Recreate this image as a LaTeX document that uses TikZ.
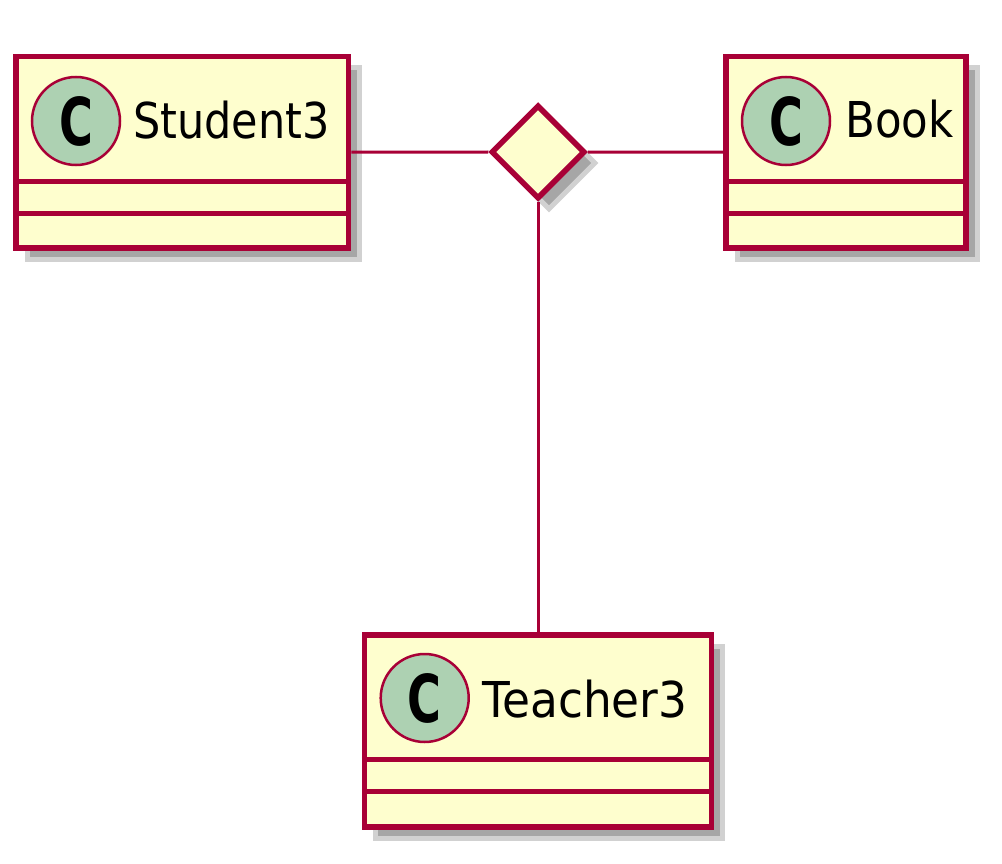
\documentclass[tikz,border=0pt]{standalone}
\usepackage{fontspec}
\setmainfont{DejaVu Sans}
\usetikzlibrary{shapes.geometric,shadows}
\definecolor{umlborder}{HTML}{A80036}
\definecolor{umlfill}{HTML}{FEFECE}
\definecolor{umlcircle}{HTML}{ADD1B2}
\tikzset{
  umlshadow/.style={general shadow={fill=black!35,draw=black!18,line width=5pt,shadow xshift=11pt,shadow yshift=-11pt}},
  classbox/.style={draw=umlborder,fill=umlfill,line width=5.5pt,inner sep=0pt,umlshadow},
  relbox/.style={diamond,draw=umlborder,fill=umlfill,line width=5.5pt,inner sep=0pt,minimum width=94pt,minimum height=94pt,umlshadow},
  sep/.style={draw=umlborder,line width=5pt},
  spot/.style={circle,draw=umlborder,fill=umlcircle,line width=2.5pt,minimum size=88pt,inner sep=0pt,font=\fontsize{66}{66}\selectfont\bfseries},
  cname/.style={anchor=base west,inner sep=0pt,font=\fontsize{49.4}{50}\selectfont},
  link/.style={draw=umlborder,line width=3pt}
}
\begin{document}
\begin{tikzpicture}[x=1pt,y=-1pt]
\useasboundingbox (0,0) rectangle (1002,864);
\node[relbox] (d) at (538,152) {};
\node[classbox,minimum width=332.5pt,minimum height=191.5pt] (s) at (182.25,152.25) {};
\node[classbox,minimum width=240pt,minimum height=191.5pt] (b) at (846,152.25) {};
\node[classbox,minimum width=347pt,minimum height=192pt] (t) at (538,731) {};
\draw[link] (s.east) -- (d.west);
\draw[link] (d.east) -- (b.west);
\draw[link] (d.south) -- (t.north);
\foreach \n in {s,b,t}{
  \draw[sep] ([yshift=-127.5pt]\n.north west) -- ([yshift=-127.5pt]\n.north east);
  \draw[sep] ([yshift=-159.5pt]\n.north west) -- ([yshift=-159.5pt]\n.north east);
}
\node[spot] (sc) at (76,121) {\scalebox{0.7}[1]{C}};
\node[spot] (bc) at (786,121) {\scalebox{0.7}[1]{C}};
\node[spot] (tc) at (424.7,698) {\scalebox{0.7}[1]{C}};
\node[cname] (sn) at (133,139) {\scalebox{0.87}[1]{Student3}};
\node[cname] (bn) at (845,138) {\scalebox{0.88}[1]{Book}};
\node[cname] (tn) at (482,717) {\scalebox{0.92}[1]{Teacher3}};
\end{tikzpicture}
\end{document}
